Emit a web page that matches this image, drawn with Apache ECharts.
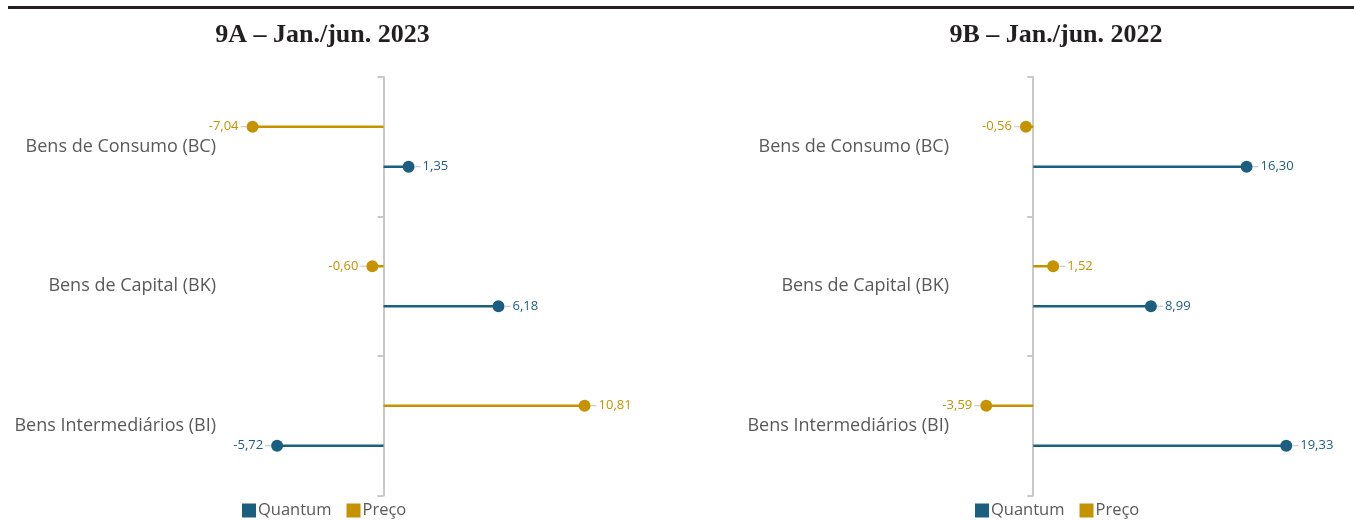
<!DOCTYPE html>
<html><head><meta charset="utf-8">
<script src="https://cdn.jsdelivr.net/npm/echarts@6/dist/echarts.min.js"></script>
<style>html,body{margin:0;padding:0;background:#fff}#c{width:1354px;height:521px}</style>
</head><body><div id="c"></div>
<script>
const categories = ['Bens de Consumo (BC)', 'Bens de Capital (BK)', 'Bens Intermediários (BI)'];
const titleA = '9A – Jan./jun. 2023';
const titleB = '9B – Jan./jun. 2022';
const quantumA = [1.35, 6.18, -5.72];
const precoA = [-7.04, -0.60, 10.81];
const quantumB = [16.30, 8.99, 19.33];
const precoB = [-0.56, 1.52, -3.59];
const seriesNames = ['Quantum', 'Preço'];

const C_Q = '#1b5f80';
const C_P = '#c59300';
const fmt = v => v.toFixed(2).replace('.', ',');

function dotData(vals) {
  return vals.map((v, i) => ({
    value: [v, categories[i]],
    label: {
      position: v < 0 ? 'left' : 'right',
      formatter: v < 0 ? '{v|' + fmt(v) + '}{d|}' : '{d|}{v|' + fmt(v) + '}'
    }
  }));
}
function richFor(color) {
  return {
    d: { width: 6, height: 1, backgroundColor: '#bfbfbf' },
    v: { color: color, fontSize: 13, fontFamily: 'Open Sans', padding: [0, 2, 0, 2] }
  };
}

const grids = [
  { left: 234.7, top: 77, width: 427.8, height: 418.5, min: -8, max: 15, margin: 18.7, q: quantumA, p: precoA },
  { left: 967.8, top: 77, width: 353.4, height: 418.5, min: -5, max: 22, margin: 18.8, q: quantumB, p: precoB }
];

const titleStyle = { fontFamily: 'Liberation Serif', fontWeight: 'bold', fontSize: 26, color: '#231f20' };
const legendBase = { data: seriesNames, top: 497, icon: 'rect', itemWidth: 14, itemHeight: 14, itemGap: 15,
  textStyle: { fontSize: 16.5, color: '#595959', fontFamily: 'Open Sans', padding: [0, 0, 0, -3] } };

const option = {
  animation: false,
  backgroundColor: '#fff',
  title: [
    { text: titleA, left: 317.5, top: 17, textAlign: 'center', textStyle: titleStyle },
    { text: titleB, left: 1051, top: 17, textAlign: 'center', textStyle: titleStyle }
  ],
  graphic: [
    { type: 'rect', shape: { x: 8, y: 6, width: 1346, height: 3 }, style: { fill: '#231f20' } }
  ],
  legend: [
    Object.assign({}, legendBase, { left: 237 }),
    Object.assign({}, legendBase, { left: 970 })
  ],
  grid: grids.map(g => ({ left: g.left, top: g.top, width: g.width, height: g.height,
    containLabel: false, outerBoundsMode: 'none' })),
  xAxis: grids.map((g, i) => ({
    type: 'value', gridIndex: i, min: g.min, max: g.max,
    axisLine: { show: false }, axisTick: { show: false }, axisLabel: { show: false }, splitLine: { show: false }
  })),
  yAxis: grids.map((g, i) => ({
    type: 'category', gridIndex: i, data: categories, inverse: true,
    axisLine: { show: true, onZero: true, lineStyle: { color: '#c9c9c9', width: 2 } },
    axisTick: { show: true, length: 6, lineStyle: { color: '#c9c9c9', width: 2 } },
    axisLabel: { margin: g.margin, fontSize: 18, color: '#595959', fontFamily: 'Open Sans', padding: [3, 0, 0, 0] }
  })),
  series: []
};

grids.forEach((g, i) => {
  option.series.push(
    { name: 'Preço', type: 'bar', xAxisIndex: i, yAxisIndex: i, data: g.p, barWidth: 2.5, barGap: '1500%',
      itemStyle: { color: C_P }, z: 2 },
    { name: 'Quantum', type: 'bar', xAxisIndex: i, yAxisIndex: i, data: g.q, barWidth: 2.5, barGap: '1500%',
      itemStyle: { color: C_Q }, z: 2 },
    { name: 'Preço', type: 'scatter', xAxisIndex: i, yAxisIndex: i, data: dotData(g.p), symbolSize: 12,
      symbolOffset: [0, -20], itemStyle: { color: C_P, opacity: 1 }, z: 3,
      label: { show: true, distance: 0, rich: richFor(C_P) } },
    { name: 'Quantum', type: 'scatter', xAxisIndex: i, yAxisIndex: i, data: dotData(g.q), symbolSize: 12,
      symbolOffset: [0, 20], itemStyle: { color: C_Q, opacity: 1 }, z: 3,
      label: { show: true, distance: 0, rich: richFor(C_Q) } }
  );
});

const chart = echarts.init(document.getElementById('c'), null, { renderer: 'canvas' });
chart.setOption(option);
</script>
</body></html>
